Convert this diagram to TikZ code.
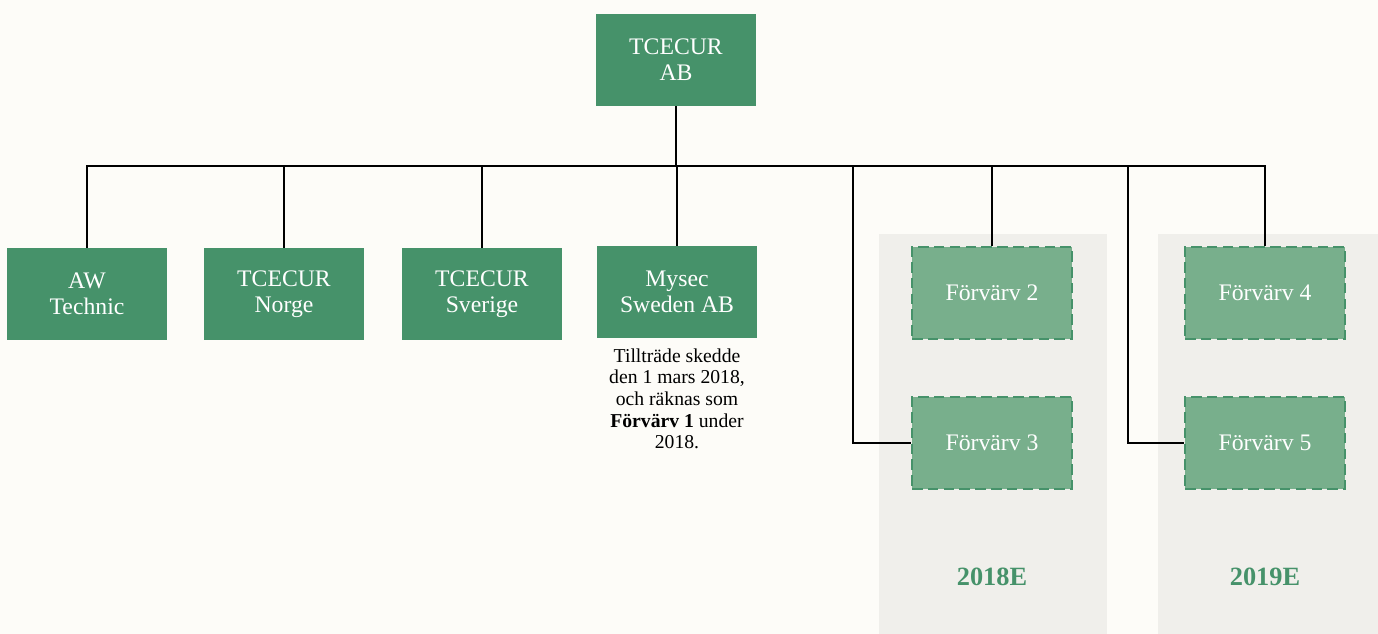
\documentclass[tikz,border=0pt]{standalone}
\usepackage{fontspec}
\setmainfont{Liberation Serif}
\usetikzlibrary{positioning}

\begin{document}
\begin{tikzpicture}[x=0.02cm, y=-0.02cm,
    company/.style={fill=green, text=white, minimum width=3.2cm, minimum height=1.84cm,
      inner sep=0pt, align=center, font=\fontsize{13.5}{15}\selectfont},
    planned/.style={company, fill=lightgreen, draw=green, line width=1.5pt,
      dash pattern=on 6pt off 3pt, minimum width=3.2cm},
    year/.style={font=\fontsize{15}{18}\selectfont\bfseries, text=green},
    link/.style={line width=1.1pt, color=black}]
  \definecolor{green}{HTML}{46926A}
  \definecolor{lightgreen}{HTML}{78AF8C}
  \definecolor{panel}{HTML}{F0EFEB}
  \definecolor{paper}{HTML}{FDFCF8}
  \fill[paper] (0,0) rectangle (1378,634);
  \useasboundingbox (0,0) rectangle (1378,634);

  % year panels
  \fill[panel] (879,234) rectangle (1107,634);
  \fill[panel] (1158,234) rectangle (1378,634);
  \node[year] (y18) at (992,577) {2018E};
  \node[year] (y19) at (1265,577) {2019E};

  % companies
  \node[company] (top) at (676,60) {TCECUR\\AB};
  \node[company] (aw) at (87,294) {AW\\Technic};
  \node[company] (norge) at (284,294) {TCECUR\\Norge};
  \node[company] (sverige) at (482,294) {TCECUR\\Sverige};
  \node[company] (mysec) at (677,292) {Mysec\\Sweden AB};
  \node[align=center, font=\fontsize{11.2}{12.3}\selectfont, below=0.08cm of mysec] (note)
    {Tillträde skedde\\den 1 mars 2018,\\och räknas som\\\textbf{Förvärv 1} under\\2018.};

  \node[planned] (f2) at (992,293) {Förvärv 2};
  \node[planned] (f3) at (992,443) {Förvärv 3};
  \node[planned] (f4) at (1265,293) {Förvärv 4};
  \node[planned] (f5) at (1265,443) {Förvärv 5};

  % links
  \coordinate (bus) at (676,166);
  \coordinate (j3) at (853,443);
  \coordinate (j5) at (1128,443);
  \draw[link] (top.south) -- (bus);
  \draw[link] (aw.north) |- (bus);
  \draw[link] (norge.north) |- (bus);
  \draw[link] (sverige.north) |- (bus);
  \draw[link] (mysec.north) |- (bus);
  \draw[link] (f2.north) |- (bus);
  \draw[link] (f4.north) |- (bus);
  \draw[link] (f3.west) -- (j3) |- (bus);
  \draw[link] (f5.west) -- (j5) |- (bus);
\end{tikzpicture}
\end{document}
